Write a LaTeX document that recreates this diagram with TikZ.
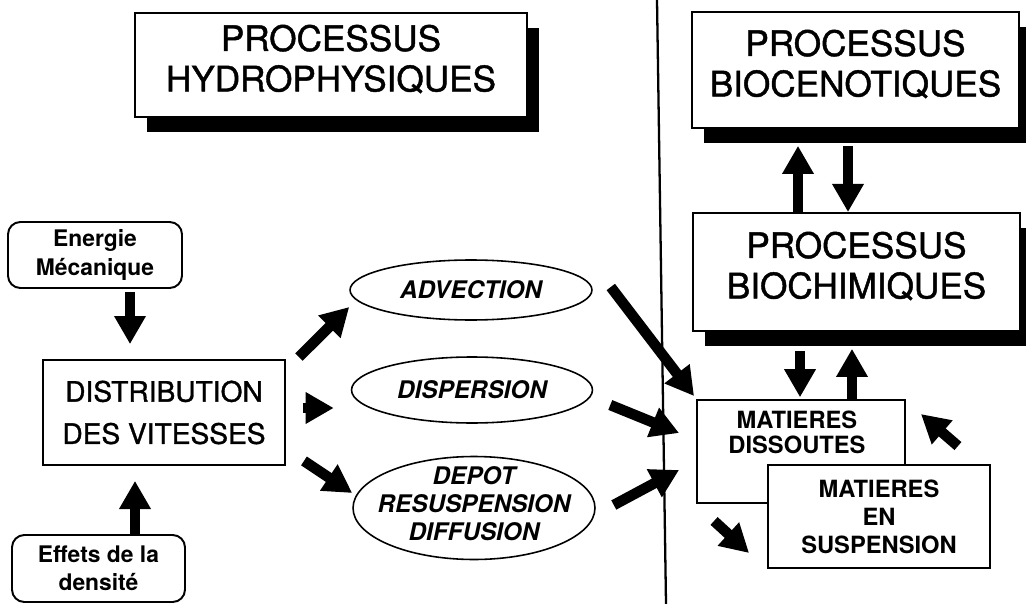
\documentclass[tikz,border=0pt]{standalone}
\usepackage{fontspec}
\setmainfont{TeX Gyre Heros}
\newfontfamily\medfont{TeX Gyre Heros}[FakeBold=1.2]
\usetikzlibrary{arrows.meta,shapes.geometric,shadows,calc}
\begin{document}
\begin{tikzpicture}[x=0.02cm,y=-0.02cm,
  box/.style={draw, line width=1.1pt, fill=white, inner sep=0pt, align=center},
  titlebox/.style={box, drop shadow={shadow xshift=7pt, shadow yshift=-8.5pt, fill=black, opacity=1}},
  titletext/.style={inner sep=0pt, align=center, font=\medfont\fontsize{20}{23}\selectfont},
  roundbox/.style={box, rounded corners=7pt, font=\bfseries\fontsize{13}{16}\selectfont},
  distbox/.style={box, font=\medfont\fontsize{16}{24}\selectfont},
  oval/.style={ellipse, draw, line width=0.9pt, fill=white, inner sep=0pt, align=center,
    font=\bfseries\itshape\fontsize{13.8}{16}\selectfont},
  ovaltext/.style={inner sep=0pt, align=center, font=\bfseries\itshape\fontsize{13.8}{16}\selectfont},
  matbox/.style={box, font=\bfseries\fontsize{13.5}{16}\selectfont},
  mattext/.style={inner sep=0pt, align=center, font=\bfseries\fontsize{13.5}{14.2}\selectfont},
  bigarrow/.style={-{Triangle[length=16pt,width=17pt]}, line width=6pt}]

\useasboundingbox (0,0) rectangle (1026,604);

% divider between the two families of processes
\draw[line width=1.3pt] (657,0) -- (666,604);

% title boxes with drop shadows
\node[titlebox, minimum width=7.84cm, minimum height=2.08cm] (hyd) at (331,65) {};
\node[titletext] (hydT) at ([yshift=3.4pt]hyd.center) {PROCESSUS\\HYDROPHYSIQUES};

\node[titlebox, minimum width=6.54cm, minimum height=2.32cm] (bioc) at (855.5,70) {};
\node[titletext] (biocT) at ([yshift=3.4pt]bioc.center) {PROCESSUS\\BIOCENOTIQUES};

\node[titlebox, minimum width=6.54cm, minimum height=2.36cm] (bioh) at (856.5,272) {};
\node[titletext] (biohT) at ([yshift=3.4pt]bioh.center) {PROCESSUS\\BIOCHIMIQUES};

% hydrophysical chain
\node[roundbox, minimum width=3.48cm, minimum height=1.32cm] (en) at (95,255) {Energie\\Mécanique};
\node[box, distbox, minimum width=4.84cm, minimum height=2.1cm] (dist) at (164,412.5) {DISTRIBUTION\\DES VITESSES};
\node[roundbox, minimum width=3.46cm, minimum height=1.34cm] (eff) at (98.5,568.5) {Effets de la\\densité};

\node[oval, minimum width=4.84cm, minimum height=1.2cm] (adv) at (471,290) {ADVECTION};
\node[oval, minimum width=4.82cm, minimum height=1.32cm] (disp) at (472,390) {DISPERSION};
\node[oval, minimum width=4.84cm, minimum height=2.06cm] (dep) at (474,508) {};
\node[ovaltext] (depT) at ([yshift=2.5pt]dep.center) {DEPOT\\RESUSPENSION\\DIFFUSION};

% dissolved and suspended matter
\node[matbox, minimum width=4.16cm, minimum height=2.06cm] (mdis) at (801,451.5) {};
\node[mattext] (mdisT) at ([xshift=-2.3pt,yshift=10.8pt]mdis.center) {MATIERES\\DISSOUTES};
\node[matbox, minimum width=4.44cm, minimum height=2.06cm] (msus) at (879,516.5) {};
\node[mattext, font=\bfseries\fontsize{13.5}{16}\selectfont] (msusT) at (msus.center) {MATIERES\\EN\\SUSPENSION};

% columns for the vertical arrows
\coordinate (ax1) at (130,0);
\coordinate (ax2) at (135,0);
\coordinate (bx1) at (798,0);
\coordinate (bx2) at (848,0);
\coordinate (cx1) at (800,0);
\coordinate (cx2) at (852,0);

% arrows of the hydrophysical side
\draw[bigarrow, shorten <=2pt, shorten >=8.5pt] (en.south -| ax1) -- (dist.north -| ax1);
\draw[bigarrow, shorten >=8.5pt] (eff.north -| ax2) -- (dist.south -| ax2);
\draw[bigarrow] ($(dist.north east)+(13,-2)$) -- ($(adv.west)+(0,17)$);
\draw[bigarrow] ($(dist.east)+(17,-4.5)$) -- ($(disp.west)+(-17,18)$);
\draw[bigarrow] ($(dist.south east)+(18,-5)$) -- ($(dep.west)+(0,-15)$);

\draw[bigarrow] ($(adv.east)+(18,-3)$) -- ($(mdis.north west)+(-2,-3)$);
\draw[bigarrow] ($(disp.east)+(17,15)$) -- ($(mdis.west)+(-17,-18.5)$);
\draw[bigarrow] ($(dep.east)+(18,-3)$) -- ($(mdis.west)+(-17,18.5)$);

% exchanges with the biological processes
\draw[bigarrow, shorten >=9.6pt] (bioh.north -| bx1) -- (bioc.south -| bx1);
\draw[bigarrow, shorten <=9.6pt] (bioc.south -| bx2) -- (bioh.north -| bx2);
\draw[bigarrow, shorten <=10.8pt, shorten >=1pt] (bioh.south -| cx1) -- (mdis.north -| cx1);
\draw[bigarrow, shorten >=9.6pt] (mdis.north -| cx2) -- (bioh.south -| cx2);

% exchanges between dissolved and suspended matter
\draw[bigarrow] ($(msus.north east)+(-33,-18)$) -- ($(mdis.north east)+(15,15)$);
\draw[bigarrow] ($(mdis.south west)+(18,17)$) -- ($(msus.west)+(-18,36.5)$);

\end{tikzpicture}
\end{document}
